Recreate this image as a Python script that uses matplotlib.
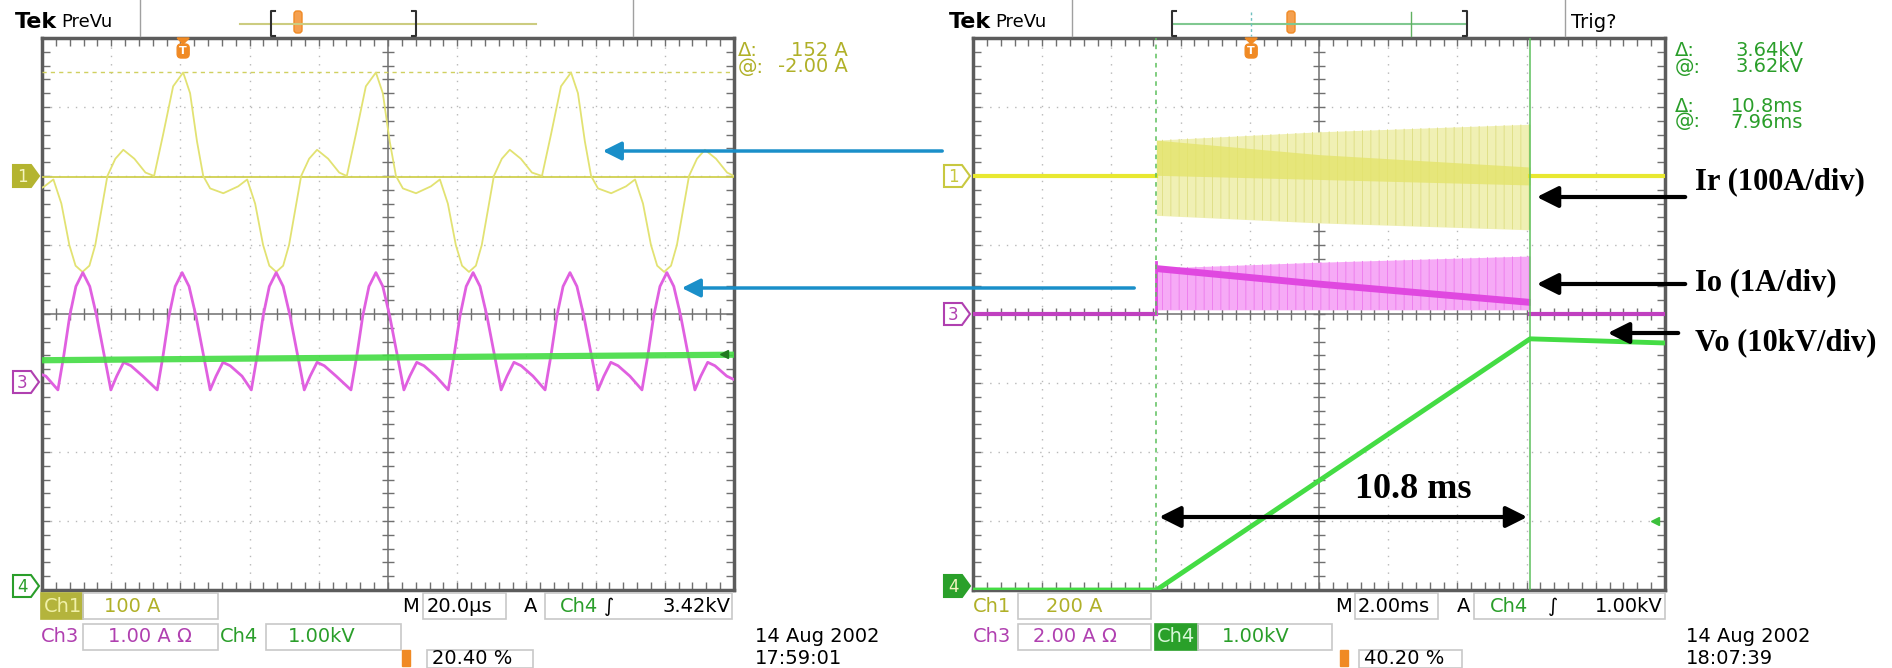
import numpy as np
import matplotlib.pyplot as plt
from matplotlib.patches import Rectangle, Polygon, FancyBboxPatch

W, H = 1892, 668
plt.rcParams['hatch.linewidth'] = 0.7

# ---------------- left capture (20 us/div) ----------------
# Ir, ch1, 100 A/div
ir_t = [0.0, 0.7, 3.3, 5.6, 7.9, 9.7, 11.7, 13.7, 15.4, 17.5, 18.9, 21.2, 23.5, 26.7, 29.9, 32.4, 35.0, 37.9,
        40.8, 42.8, 44.8, 46.6, 48.6, 52.4, 56.7, 59.3, 61.6, 63.9, 65.7, 67.7, 69.7, 71.4, 73.5, 74.9, 77.2,
        79.5, 82.7, 85.9, 88.1, 90.7, 93.6,
        96.5, 98.5, 100.5, 102.3, 104.3, 108.1, 112.4, 115.0, 117.3, 119.6, 121.4, 123.4, 125.4, 127.1, 129.2,
        130.6, 132.9, 135.2, 138.4, 141.6, 144.5, 147.1, 150.0,
        152.9, 154.9, 156.9, 158.7, 160.7, 164.5, 168.8, 171.4, 173.7, 176.0, 177.8, 179.8, 181.8, 183.5, 185.6,
        187.0, 189.3, 191.6, 194.8, 198.0, 200.0]
ir_a = [-17, -15, -5, -40, -100, -130, -139, -130, -100, -40, 0, 25, 38, 25, 5, 0, 60, 130,
        150, 120, 50, 0, -18, -25, -15, -5, -40, -100, -130, -139, -130, -100, -40, 0, 25,
        38, 25, 5, 0, 60, 130,
        150, 120, 50, 0, -18, -25, -15, -5, -40, -100, -130, -139, -130, -100, -40,
        0, 25, 38, 25, 5, 0, 60, 130,
        150, 120, 50, 0, -18, -25, -15, -5, -40, -100, -130, -139, -130, -100, -40,
        0, 25, 38, 25, 5, 0]

# Io, ch3, 1 A/div
io_t = [0.0, 1.1, 4.6, 6.3, 8.0, 9.8, 11.8, 13.8, 15.8, 19.9, 21.6, 23.6, 25.7, 29.1,
        33.3, 35.0, 36.7, 38.5, 40.5, 42.5, 44.5, 48.6, 50.3, 52.3, 54.4, 57.8,
        60.5, 62.2, 63.9, 65.7, 67.7, 69.7, 71.7, 75.8, 77.5, 79.5, 81.6, 85.0,
        89.3, 91.0, 92.7, 94.5, 96.5, 98.5, 100.5, 104.6, 106.3, 108.3, 110.4, 113.8,
        117.4, 119.1, 120.8, 122.6, 124.6, 126.6, 128.6, 132.7, 134.4, 136.4, 138.5, 141.9,
        145.4, 147.1, 148.8, 150.6, 152.6, 154.6, 156.6, 160.7, 162.4, 164.4, 166.5, 169.9,
        173.4, 175.1, 176.8, 178.6, 180.6, 182.6, 184.6, 188.7, 190.4, 192.4, 194.5, 197.9, 200.0]
io_a = [0.12, 0.1, -0.1, 0.4, 0.97, 1.4, 1.6, 1.4, 0.97, -0.1, 0.1, 0.3, 0.25, 0.1,
        -0.1, 0.4, 0.97, 1.4, 1.6, 1.4, 0.97, -0.1, 0.1, 0.3, 0.25, 0.1,
        -0.1, 0.4, 0.97, 1.4, 1.6, 1.4, 0.97, -0.1, 0.1, 0.3, 0.25, 0.1,
        -0.1, 0.4, 0.97, 1.4, 1.6, 1.4, 0.97, -0.1, 0.1, 0.3, 0.25, 0.1,
        -0.1, 0.4, 0.97, 1.4, 1.6, 1.4, 0.97, -0.1, 0.1, 0.3, 0.25, 0.1,
        -0.1, 0.4, 0.97, 1.4, 1.6, 1.4, 0.97, -0.1, 0.1, 0.3, 0.25, 0.1,
        -0.1, 0.4, 0.97, 1.4, 1.6, 1.4, 0.97, -0.1, 0.1, 0.3, 0.25, 0.1, 0.05]

# Vo, ch4, 1 kV/div
vo_t = [0, 200]
vo_kv = [3.33, 3.41]
cursor_a = [150, -2]          # ch1 cursors
trig_left_kv = 3.42
trig_left_pct = 20.40

# ---------------- right capture (2 ms/div) ----------------
flat_t = [[0, 5.3], [16.1, 20]]
vo_r_t = [0, 5.3, 16.1, 20]
vo_r_kv = [0, 0, 3.64, 3.58]
env_t = [5.3, 10.0, 16.1]
ir_hi = [104, 128, 150]         # ch1, 200 A/div
ir_lo = [-114, -136, -156]
ir_band_hi = [104, 62, 26]
ir_band_lo = [2, -10, -26]
io_hi = [1.33, 1.5, 1.68]       # ch3, 2 A/div
io_lo = [0.12, 0.12, 0.12]
io_band_hi = [1.43, 0.98, 0.45]
io_band_lo = [1.23, 0.78, 0.25]
io_spike = 1.5
cursor_ms = [5.3, 16.1]
trig_right_kv = 1.0
trig_right_pct = 40.20

YEL = '#e2e272'
YEL_T = '#b0b028'
MAG = '#e060e0'
MAG_T = '#b040b0'
GRN = '#44dc44'
GRN_T = '#2a9e2a'
ORG = '#f08a24'
BLUE = '#1a8fc9'
SCOPE_FONT = 'DejaVu Sans'
SERIF = 'Liberation Serif'

fig = plt.figure(figsize=(W / 100, H / 100), dpi=100)


def rect(x0, y0, x1, y1):
    return [x0 / W, 1 - y1 / H, (x1 - x0) / W, (y1 - y0) / H]


def graticule(r):
    ax = fig.add_axes(r)
    ax.set_xlim(0, 10)
    ax.set_ylim(-4, 4)
    for i in range(1, 10):
        if i != 5:
            ax.axvline(i, color='#b8b8b8', lw=1, ls=(0, (1, 5)))
    for j in range(-3, 4):
        if j != 0:
            ax.axhline(j, color='#b8b8b8', lw=1, ls=(0, (1, 5)))
    ax.axvline(5, color='#7a7a7a', lw=1.2)
    ax.axhline(0, color='#7a7a7a', lw=1.2)
    xs = np.arange(0, 10.01, 0.2)
    ys = np.arange(-4, 4.01, 0.2)
    kw = dict(color='#707070', lw=1)
    ax.vlines(xs, -0.08, 0.08, **kw)
    ax.hlines(ys, 4.92, 5.08, **kw)
    ax.vlines(xs, -4, -3.88, **kw)
    ax.vlines(xs, 3.88, 4, **kw)
    ax.hlines(ys, 0, 0.12, **kw)
    ax.hlines(ys, 9.88, 10, **kw)
    ax.set_xticks([])
    ax.set_yticks([])
    for s in ax.spines.values():
        s.set_color('#5c5c5c')
        s.set_linewidth(2.5)
    return ax


def channel(r, xmax, ground, per_div):
    ax = fig.add_axes(r)
    ax.set_xlim(0, xmax)
    ax.set_ylim((-4 - ground) * per_div, (4 - ground) * per_div)
    ax.axis('off')
    return ax


# ---------- left scope ----------
LR = rect(42, 38, 734, 590)
graticule(LR)
c1 = channel(LR, 200, 2, 100)
c3 = channel(LR, 200, -1, 1)
c4 = channel(LR, 200, -4, 1)
c3.plot(io_t, io_a, color=MAG, lw=2)
c4.plot(vo_t, vo_kv, color=GRN, lw=4.5, alpha=0.9)
c4.plot([197], [trig_left_kv], marker='<', color='#1f7a1f', ms=6)
c1.axhline(cursor_a[0], color='#d0d060', lw=1, ls=(0, (3, 3)))
c1.axhline(cursor_a[1], color='#d0d050', lw=1.3)
c1.plot(ir_t, ir_a, color=YEL, lw=1.3)

# ---------- right scope ----------
RR = rect(973, 38, 1665, 590)
graticule(RR)
r1 = channel(RR, 20, 2, 200)
r3 = channel(RR, 20, 0, 2)
r4 = channel(RR, 20, -4, 1)
for c in cursor_ms:
    r4.axvline(c, color='#5cc05c', lw=1.1, ls=(0, (3, 3)) if c == cursor_ms[0] else '-')
r1.fill_between(env_t, ir_lo, ir_hi, color='#f0f0b4', lw=0)
r1.fill_between(env_t, ir_lo, ir_hi, fc='none', ec='#e0e088', hatch='||', lw=0)
r1.fill_between(env_t, ir_band_lo, ir_band_hi, color='#e4e46c', lw=0, alpha=0.8)
for seg in flat_t:
    r1.plot(seg, [0, 0], color='#e8e830', lw=3)
    r3.plot(seg, [0, 0], color='#c040c0', lw=3)
r3.fill_between(env_t, io_lo, io_hi, color='#f6aaf6', lw=0)
r3.fill_between(env_t, io_lo, io_hi, fc='none', ec='#ee80ee', hatch='||', lw=0)
r3.fill_between(env_t, io_band_lo, io_band_hi, color='#e048e0', lw=0)
r3.plot([env_t[0], env_t[0]], [0, io_spike], color='#e048e0', lw=2)
r4.plot(vo_r_t, vo_r_kv, color=GRN, lw=3.5)
r4.plot([19.7], [trig_right_kv], marker='<', color='#3cc03c', ms=6)

# ---------- overlay in pixel coordinates ----------
ov = fig.add_axes([0, 0, 1, 1], zorder=10)
ov.set_xlim(0, W)
ov.set_ylim(H, 0)
ov.axis('off')


def txt(x, y, s, color='black', size=14, ha='left', **kw):
    ov.text(x, y, s, color=color, fontsize=size, ha=ha, va='center', family=SCOPE_FONT, **kw)


def box(x0, y0, x1, y1, fc='none', ec='#c8c8c8'):
    ov.add_patch(Rectangle((x0, y0), x1 - x0, y1 - y0, fc=fc, ec=ec, lw=1.2))


def chan_marker(x0, y, label, color, filled):
    pts = [(x0, y - 11), (x0 + 18, y - 11), (x0 + 26, y), (x0 + 18, y + 11), (x0, y + 11)]
    ov.add_patch(Polygon(pts, closed=True, fc=color if filled else 'white', ec=color, lw=1.5))
    ov.text(x0 + 9, y + 1, label, color='#f4f4c0' if filled else color, fontsize=12,
            ha='center', va='center', family=SCOPE_FONT)


def trig_pin(x, y0):
    ov.add_patch(Polygon([(x - 6, y0), (x + 6, y0), (x, y0 + 6)], fc=ORG, ec=ORG))
    ov.add_patch(FancyBboxPatch((x - 6, y0 + 6), 12, 14, boxstyle='round,pad=0,rounding_size=4',
                                fc=ORG, ec=ORG))
    ov.text(x, y0 + 13, 'T', color='white', fontsize=8, ha='center', va='center', fontweight='bold')


def top_bar(x_tek, sep1, line0, line1, br0, br1, t_x, sep2, line_col):
    ov.text(x_tek, 22, 'Tek', fontsize=16, fontweight='bold', family=SCOPE_FONT, va='center')
    ov.text(x_tek + 46, 22, 'PreVu', fontsize=13, family=SCOPE_FONT, va='center')
    ov.plot([sep1, sep1], [0, 36], color='#a0a0a0', lw=1)
    ov.plot([sep2, sep2], [0, 36], color='#a0a0a0', lw=1)
    ov.plot([line0, line1], [24, 24], color=line_col, lw=1.5)
    for bx, d in ((br0, 4), (br1, -4)):
        ov.plot([bx + d, bx, bx, bx + d], [11, 11, 36, 36], color='#303030', lw=1.5)
    ov.add_patch(FancyBboxPatch((t_x - 4, 11), 8, 22, boxstyle='round,pad=0,rounding_size=3',
                                fc='#f4a050', ec=ORG))


# left header / readouts
top_bar(15, 140, 240, 536, 271, 416, 298, 633, '#cccc80')
trig_pin(42 + 692 * trig_left_pct / 100, 38)
txt(738, 51, 'Δ:', YEL_T)
txt(848, 51, '152 A', YEL_T, ha='right')
txt(738, 67, '@:', YEL_T)
txt(848, 67, '-2.00 A', YEL_T, ha='right')
chan_marker(13, 176, '1', '#b4b430', True)
chan_marker(13, 382, '3', MAG_T, False)
chan_marker(13, 586, '4', GRN_T, False)

# left footer
box(41, 593, 83, 619, fc='#b4b43c', ec='#b4b43c')
txt(44, 606, 'Ch1', '#f0f0a8')
box(83, 593, 218, 619)
txt(104, 606, '100 A', YEL_T)
txt(402, 606, 'M')
box(423, 593, 506, 619)
txt(427, 606, '20.0µs')
txt(524, 606, 'A')
box(545, 593, 732, 619)
txt(560, 606, 'Ch4', GRN_T)
txt(604, 606, '∫')
txt(730, 606, '3.42kV', ha='right')
txt(41, 637, 'Ch3', MAG_T)
box(83, 624, 218, 650)
txt(108, 637, '1.00 A Ω', MAG_T)
txt(220, 637, 'Ch4', GRN_T)
box(266, 624, 401, 650)
txt(288, 637, '1.00kV', GRN_T)
ov.add_patch(Rectangle((402, 650), 8, 16, fc=ORG, ec=ORG))
box(427, 650, 533, 668)
txt(432, 659, '20.40 %')
txt(755, 636, '14 Aug 2002', size=14)
txt(755, 658, '17:59:01', size=14)

# right header / readouts
top_bar(949, 1072, 1174, 1465, 1172, 1467, 1291, 1565, '#80c890')
ov.plot([1251, 1251], [12, 36], color='#70c0c0', lw=1, ls=(0, (2, 2)))
ov.plot([1411, 1411], [12, 36], color='#60b060', lw=1)
txt(1571, 22, 'Trig?', size=14)
trig_pin(973 + 692 * trig_right_pct / 100, 38)
for y, a, b in ((51, 'Δ:', '3.64kV'), (67, '@:', '3.62kV'), (106, 'Δ:', '10.8ms'), (122, '@:', '7.96ms')):
    txt(1675, y, a, GRN_T)
    txt(1803, y, b, GRN_T, ha='right')
chan_marker(944, 176, '1', '#c8c840', False)
chan_marker(944, 314, '3', MAG_T, False)
chan_marker(944, 586, '4', '#2aa02a', True)

# right footer
txt(973, 606, 'Ch1', YEL_T)
box(1018, 593, 1151, 619)
txt(1046, 606, '200 A', YEL_T)
txt(1335, 606, 'M')
box(1355, 593, 1438, 619)
txt(1358, 606, '2.00ms')
txt(1457, 606, 'A')
box(1474, 593, 1665, 619)
txt(1490, 606, 'Ch4', GRN_T)
txt(1548, 606, '∫')
txt(1663, 606, '1.00kV', ha='right')
txt(973, 637, 'Ch3', MAG_T)
box(1018, 624, 1151, 650)
txt(1033, 637, '2.00 A Ω', MAG_T)
box(1155, 624, 1198, 650, fc='#2aa02a', ec='#2aa02a')
txt(1157, 637, 'Ch4', '#d8f8d8')
box(1198, 624, 1332, 650)
txt(1222, 637, '1.00kV', GRN_T)
ov.add_patch(Rectangle((1340, 650), 8, 16, fc=ORG, ec=ORG))
box(1359, 650, 1462, 668)
txt(1364, 659, '40.20 %')
txt(1686, 636, '14 Aug 2002', size=14)
txt(1686, 658, '18:07:39', size=14)

# blue arrows
for tail, tip in (((945, 151), (600, 151)), ((1137, 288), (679, 288))):
    ov.annotate('', xy=tip, xytext=tail,
                arrowprops=dict(arrowstyle='-|>', color=BLUE, lw=2.5, mutation_scale=28))

# black annotations
labels = [('Ir (100A/div)', 182, (1688, 197), (1534, 197)),
          ('Io (1A/div)', 283, (1688, 284), (1534, 284)),
          ('Vo (10kV/div)', 343, (1681, 333), (1605, 333))]
for s, y, tail, tip in labels:
    ov.text(1695, y, s, fontsize=22, fontweight='bold', family=SERIF, va='center')
    ov.annotate('', xy=tip, xytext=tail,
                arrowprops=dict(arrowstyle='-|>', color='black', lw=3, mutation_scale=32))
x0 = 973 + 692 * cursor_ms[0] / 20
x1 = 973 + 692 * cursor_ms[1] / 20
ov.annotate('', xy=(x1, 517), xytext=(x0, 517),
            arrowprops=dict(arrowstyle='<|-|>', color='black', lw=3, mutation_scale=32))
ov.text(1413, 490, '10.8 ms', fontsize=26, fontweight='bold', family=SERIF, ha='center', va='center')

fig.savefig('out.png', dpi=100, facecolor='white')
